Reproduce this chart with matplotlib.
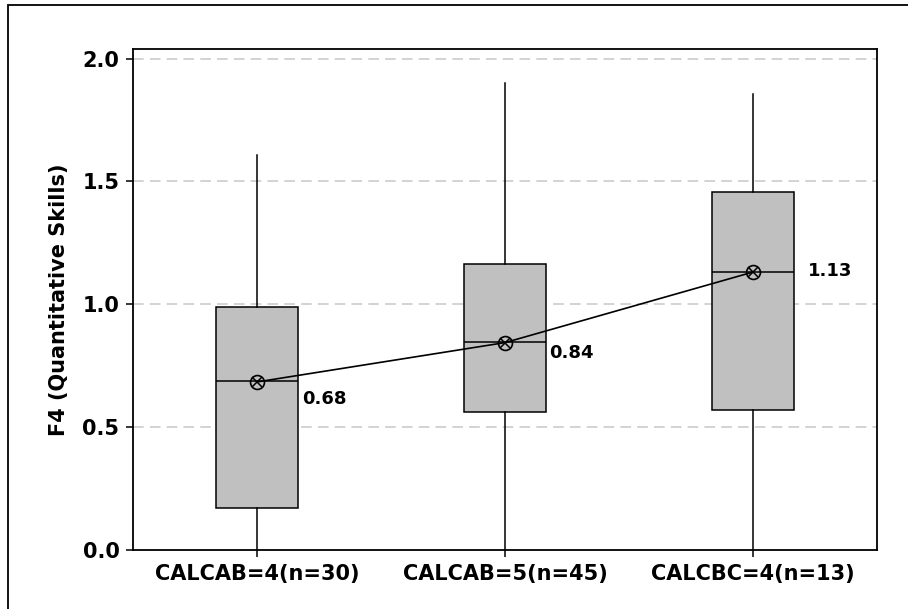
import matplotlib
matplotlib.use("Agg")
import matplotlib.pyplot as plt
from matplotlib.patches import Rectangle

# ---- data ----
categories = ["CALCAB=4(n=30)", "CALCAB=5(n=45)", "CALCBC=4(n=13)"]
q1 = [0.169, 0.563, 0.570]
medians = [0.688, 0.846, 1.131]
q3 = [0.988, 1.163, 1.458]
whisker_low = [-0.30, -0.30, -0.30]
whisker_high = [1.608, 1.900, 1.855]
means = [0.684, 0.844, 1.131]
mean_labels = ["0.68", "0.84", "1.13"]
y_ticks = [0.0, 0.5, 1.0, 1.5, 2.0]

plt.rcParams['font.family'] = ['DejaVu Sans']

fig = plt.figure(figsize=(9.08, 6.09), dpi=100)
ax = fig.add_axes([0.1468, 0.0970, 0.9655 - 0.1468, 0.919 - 0.0970])

# outer figure frame (left/top visible)
fig.patches.append(Rectangle((8 / 908, -0.05), 1.2, (609 - 5) / 609 + 0.05,
                             transform=fig.transFigure, fill=False,
                             edgecolor='black', linewidth=1.3, zorder=0))

positions = [1, 2, 3]
stats = []
for i in range(3):
    stats.append(dict(q1=q1[i], med=medians[i], q3=q3[i],
                      whislo=whisker_low[i], whishi=whisker_high[i],
                      fliers=[], label=categories[i]))

ax.bxp(stats, positions=positions, widths=0.333, patch_artist=True,
       showcaps=False, showfliers=False,
       boxprops=dict(facecolor='#c0c0c0', edgecolor='black', linewidth=1.1),
       medianprops=dict(color='black', linewidth=1.1),
       whiskerprops=dict(color='black', linewidth=1.1),
       zorder=2)

ax.plot(positions, means, color='black', linewidth=1.2, zorder=3)
ax.plot(positions, means, linestyle='none', marker='o', markersize=10,
        markerfacecolor='none', markeredgecolor='black', markeredgewidth=1.2, zorder=4)
ax.plot(positions, means, linestyle='none', marker='x', markersize=7,
        markeredgecolor='black', markeredgewidth=1.1, zorder=4)

offsets = [(32, -12), (31.5, -7.5), (40, 0.5)]
for x, m, lab, off in zip(positions, means, mean_labels, offsets):
    ax.annotate(lab, (x, m), xytext=off, textcoords='offset points',
                ha='left', va='center', fontsize=13, fontweight='bold')

ax.set_xlim(0.5, 3.5)
ax.set_ylim(0, 2.038)
ax.set_yticks(y_ticks)
ax.set_yticklabels([f"{v:.1f}" for v in y_ticks])
ax.set_xticks(positions)
ax.set_xticklabels(categories)

for v in y_ticks[1:]:
    ax.axhline(v, color='#c8c8c8', linewidth=1.1, linestyle=(0, (7, 4)), zorder=1)

ax.tick_params(axis='both', labelsize=15, length=5, width=1.1, pad=5)
for lab in ax.get_xticklabels() + ax.get_yticklabels():
    lab.set_fontweight('bold')

ax.set_ylabel("F4 (Quantitative Skills)", fontsize=15, fontweight='bold', labelpad=10)

for s in ax.spines.values():
    s.set_linewidth(1.3)
    s.set_color('black')

fig.savefig("out.png", dpi=100)
